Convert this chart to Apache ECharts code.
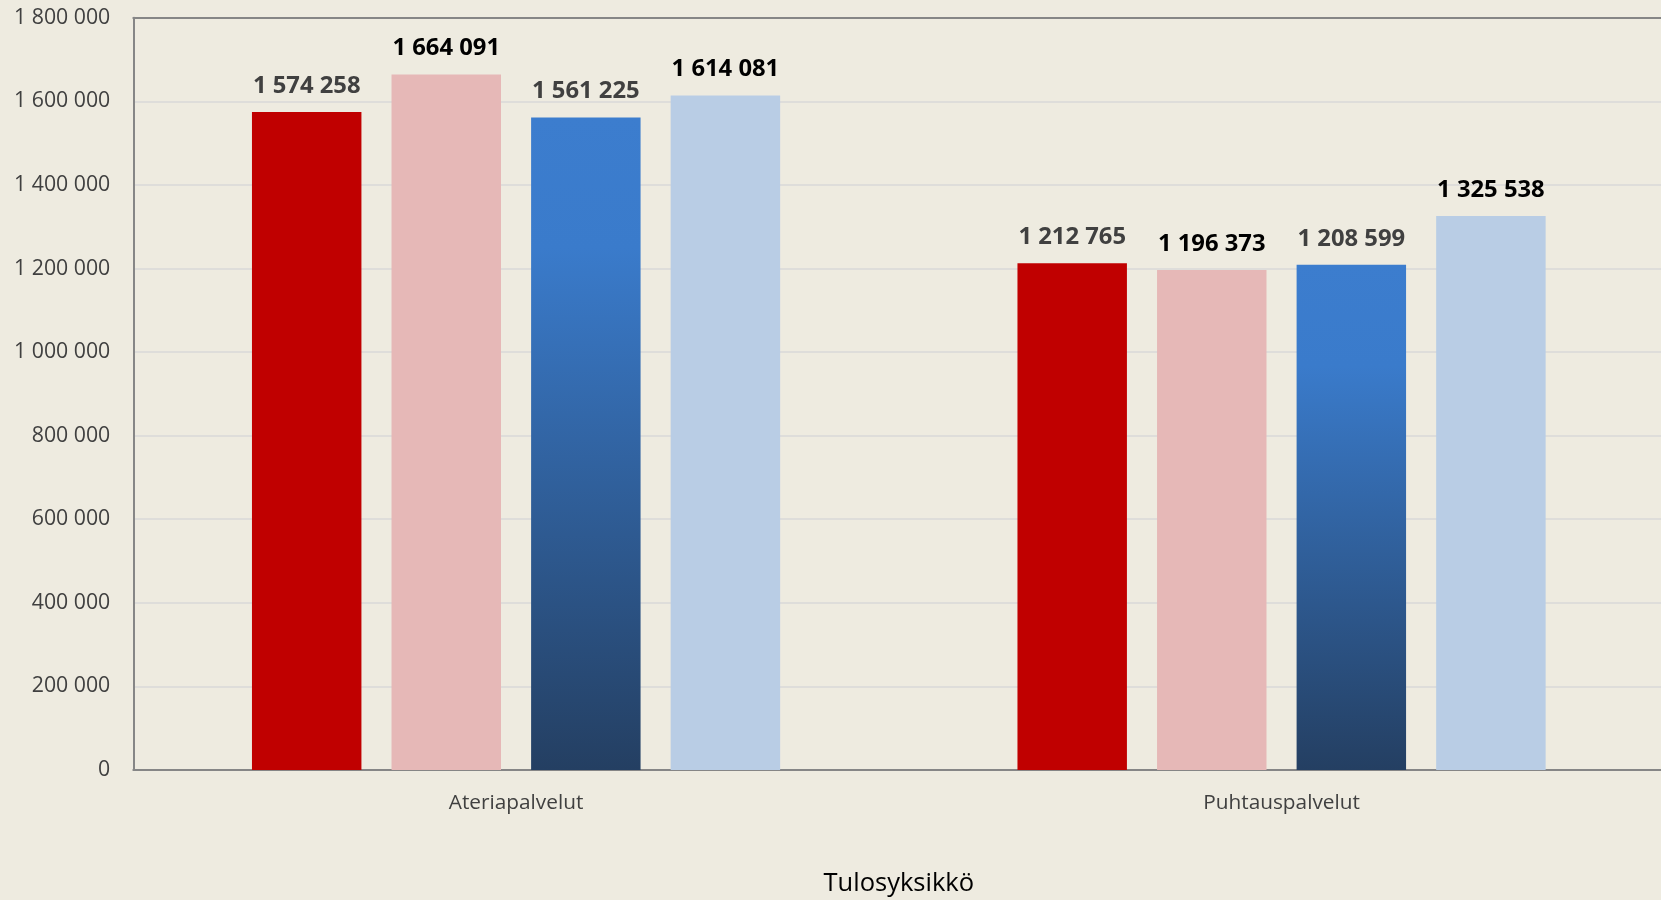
<!DOCTYPE html>
<html>
<head>
<meta charset="utf-8">
<script src="https://cdn.jsdelivr.net/npm/echarts@6/dist/echarts.min.js"></script>
<style>
html,body{margin:0;padding:0;background:#EEEBE0;}
#chart{width:1661px;height:900px;}
</style>
</head>
<body>
<div id="chart"></div>
<script>
const categories = ['Ateriapalvelut', 'Puhtauspalvelut'];
const seriesA = [1574258, 1212765];
const seriesB = [1664091, 1196373];
const seriesC = [1561225, 1208599];
const seriesD = [1614081, 1325538];
const yMin = 0, yMax = 1800000, yInterval = 200000;
const xAxisName = 'Tulosyksikkö';

const fmt = v => String(Math.round(v)).replace(/\B(?=(\d{3})+(?!\d))/g, ' ');
const FONT = '"Open Sans", "Liberation Sans", sans-serif';

function labelCfg(color) {
  return {
    show: true, position: 'top', distance: 14,
    fontFamily: FONT, fontWeight: 'bold', fontSize: 23.8, color: color,
    formatter: p => fmt(p.value)
  };
}

const blueGrad = new echarts.graphic.LinearGradient(0, 0, 0, 1, [
  {offset: 0, color: '#3C7DCE'},
  {offset: 0.2, color: '#3A7BCB'},
  {offset: 1, color: '#243F62'}
]);

const chart = echarts.init(document.getElementById('chart'), null, {renderer: 'canvas'});
chart.setOption({
  backgroundColor: '#EEEBE0',
  animation: false,
  grid: {left: 133.3, width: 1531, top: 17.7, height: 752.3, containLabel: false, outerBoundsMode: 'none'},
  xAxis: [{
    type: 'category', data: categories,
    axisLine: {show: true, lineStyle: {color: '#868686', width: 2}},
    axisTick: {show: false},
    axisLabel: {fontFamily: FONT, fontSize: 20.8, color: '#404040', margin: 23},
    name: xAxisName, nameLocation: 'middle', nameGap: 101,
    nameTextStyle: {fontFamily: FONT, fontSize: 25.5, color: '#000000'}
  }, {
    type: 'category', data: categories, position: 'top',
    axisLine: {show: true, lineStyle: {color: '#868686', width: 2}},
    axisTick: {show: false}, axisLabel: {show: false}
  }],
  yAxis: {
    type: 'value', min: yMin, max: yMax, interval: yInterval,
    axisLine: {show: true, lineStyle: {color: '#868686', width: 2}},
    axisTick: {show: false},
    splitLine: {show: true, lineStyle: {color: '#D9D9D9', width: 1.5}},
    axisLabel: {fontFamily: FONT, fontSize: 21.3, color: '#404040', margin: 23, formatter: v => fmt(v)}
  },
  series: [
    {type: 'bar', data: seriesA, barWidth: '14.3%', barGap: '27.5%', itemStyle: {color: '#C00000'}, label: labelCfg('#404040')},
    {type: 'bar', data: seriesB, barWidth: '14.3%', barGap: '27.5%', itemStyle: {color: '#E6B8B7'}, label: labelCfg('#000000')},
    {type: 'bar', data: seriesC, barWidth: '14.3%', barGap: '27.5%', itemStyle: {color: blueGrad}, label: labelCfg('#404040')},
    {type: 'bar', data: seriesD, barWidth: '14.3%', barGap: '27.5%', itemStyle: {color: '#B9CDE5'}, label: labelCfg('#000000')}
  ]
});
</script>
</body>
</html>
